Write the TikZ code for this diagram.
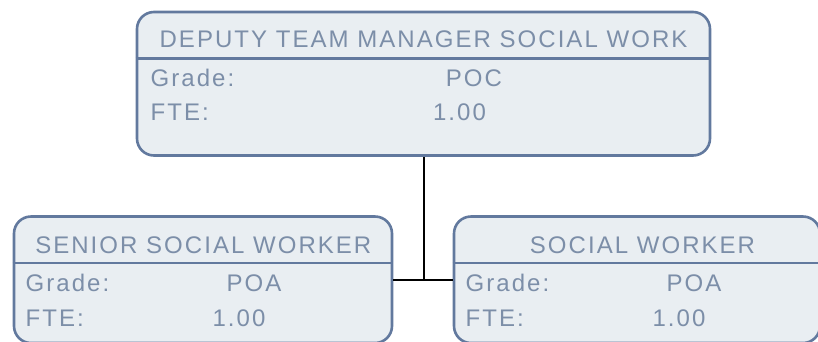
\documentclass[tikz,border=0pt]{standalone}
\usepackage{fontspec}
\setmainfont[LetterSpace=8.5]{Liberation Sans}
\definecolor{orgEdge}{RGB}{98,121,158}
\definecolor{orgFill}{RGB}{233,238,242}
\definecolor{orgText}{RGB}{124,142,168}

\begin{document}
\begin{tikzpicture}[x=1pt, y=-1pt,
  orgbox/.style={draw=orgEdge, fill=orgFill, line width=2.6pt, rounded corners=17pt, inner sep=0pt},
  divider/.style={draw=orgEdge, line width=2.6pt},
  title/.style={orgText, font=\fontsize{24}{28}\selectfont, inner sep=0pt, anchor=base},
  field/.style={orgText, font=\fontsize{24}{28}\selectfont, inner sep=0pt, anchor=base west},
  value/.style={orgText, font=\fontsize{24}{28}\selectfont, inner sep=0pt, anchor=base},
  link/.style={black, line width=2pt}]
\useasboundingbox (0,0) rectangle (818,341);
\clip (0,0) rectangle (818,341);
%% top box: deputy team manager
\node[orgbox, minimum width=573pt, minimum height=143.5pt] (dtm) at (423.5,83.75) {};
\draw[divider] (dtm.west |- 0,58.5) -- (dtm.east |- 0,58.5);
\node[title] (dtmtitle) at (423.5,47.5) {DEPUTY TEAM MANAGER SOCIAL WORK};
\node[field] (dtmgrade) at (150.5,86) {Grade:};
\node[value] (dtmgradev) at (474,86) {POC};
\node[field] (dtmfte) at (150.5,120) {FTE:};
\node[value] (dtmftev) at (459.5,120) {1.00};
%% left box: senior social worker
\node[orgbox, minimum width=378pt, minimum height=126.5pt] (ssw) at (203,279.75) {};
\draw[divider] (ssw.west |- 0,263) -- (ssw.east |- 0,263);
\node[title] (sswtitle) at (203.3,253) {SENIOR SOCIAL WORKER};
\node[field] (sswgrade) at (25.5,291.7) {Grade:};
\node[value] (sswgradev) at (254,291.7) {POA};
\node[field] (sswfte) at (25.5,326) {FTE:};
\node[value] (sswftev) at (239,326) {1.00};
%% right box: social worker
\node[orgbox, minimum width=366pt, minimum height=126.5pt] (sw) at (637,279.75) {};
\draw[divider] (sw.west |- 0,263) -- (sw.east |- 0,263);
\node[title] (swtitle) at (642.5,253.5) {SOCIAL WORKER};
\node[field] (swgrade) at (465.5,291.7) {Grade:};
\node[value] (swgradev) at (694,291.7) {POA};
\node[field] (swfte) at (465.5,326) {FTE:};
\node[value] (swftev) at (679,326) {1.00};
%% reporting lines
\draw[link] (dtm.south) -- (dtm.south |- ssw.east);
\draw[link] (ssw.east) -- (sw.west);
\end{tikzpicture}
\end{document}
